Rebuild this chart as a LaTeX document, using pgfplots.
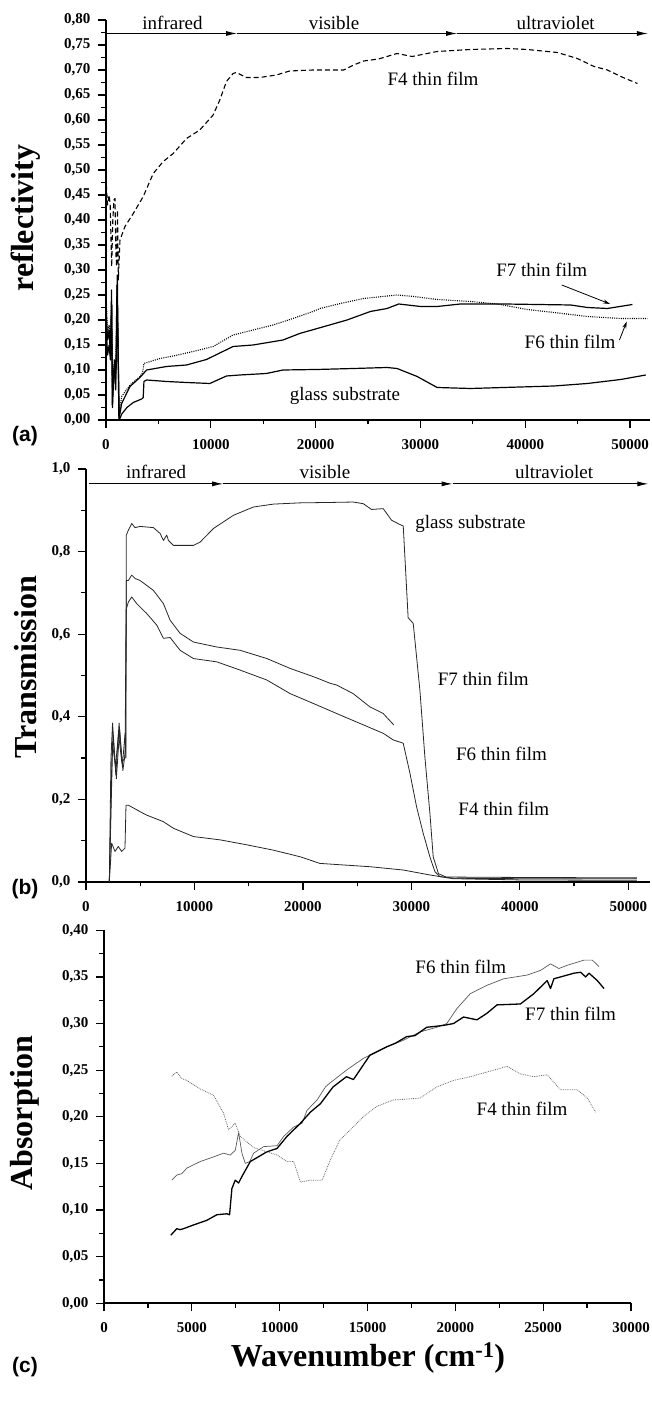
\documentclass[border=0pt]{standalone}
\usepackage{pgfplots}
\pgfplotsset{compat=1.18}
\usepackage{fontspec}
\setmainfont{Liberation Serif}
\newfontfamily\arialfont{Liberation Sans}
\usetikzlibrary{arrows.meta}
\newcommand\annot{\fontsize{19}{19}\selectfont}
\tikzset{reg/.style={-{Latex[length=11pt,width=5pt]}, line width=0.9pt}}
\pgfplotsset{
  panel/.style={
    scale only axis, axis lines=left, axis line style={-, line width=1.6pt},
    enlargelimits=false, clip=false,
    tick align=outside, major tick length=8pt, minor tick length=4.5pt,
    tick style={line width=1.2pt, black},
    tick label style={font=\fontsize{15}{15}\selectfont\bfseries},
    scaled ticks=false,
    /pgf/number format/assume math mode=true,
    xticklabel style={/pgf/number format/1000 sep={}, yshift=-8pt},
    yticklabel style={xshift=-4pt},
    minor x tick num=1, minor y tick num=1,
    ylabel style={font=\fontsize{32}{32}\selectfont\bfseries, anchor=center},
    xlabel style={font=\fontsize{32}{32}\selectfont\bfseries, anchor=center},
    every axis plot/.append style={line join=round},
  },
}
\begin{document}
\begin{tikzpicture}
\useasboundingbox (0,0) rectangle (652pt,1401pt);

%================ (a) =================
\begin{axis}[panel, at={(106pt,981pt)}, anchor=south west, width=544pt, height=400pt,
  xmin=0, xmax=51900, ymin=0, ymax=0.8,
  xtick={0,10000,20000,30000,40000,50000},
  ytick={0,0.05,0.1,0.15,0.2,0.25,0.3,0.35,0.4,0.45,0.5,0.55,0.6,0.65,0.7,0.75,0.8},
  yticklabel style={/pgf/number format/.cd,fixed,fixed zerofill,precision=2,use comma},
  ylabel={reflectivity},
  ylabel style={at={(axis description cs:-0.147,0.505)}},
]
% F4 thin film (dashed)
\addplot[black, line width=1.1pt, dash pattern=on 5pt off 3pt] table {
x y
30 0.47
150 0.43
222 0.44
300 0.45
400 0.43
540 0.307
650 0.40
760 0.44
857 0.443
950 0.33
1016 0.307
1100 0.42
1175 0.28
1333 0.36
1810 0.387
2603 0.413
3556 0.447
4508 0.493
5460 0.517
6413 0.533
7683 0.563
8952 0.58
10222 0.61
10857 0.64
11492 0.677
12127 0.693
12444 0.695
13397 0.685
14667 0.685
16254 0.69
17524 0.698
19746 0.70
21333 0.70
22675 0.70
23631 0.71
24586 0.718
26000 0.722
27771 0.733
29204 0.727
31592 0.737
34777 0.741
38280 0.743
40191 0.741
43057 0.735
44968 0.723
46560 0.707
47834 0.70
49108 0.687
50700 0.673
};
% F7 thin film (solid)
\addplot[black, line width=1.2pt] table {
x y
30 0.21
150 0.16
300 0.18
420 0.13
530 0.26
600 0.03
700 0.09
800 0.11
900 0.07
1000 0.12
1080 0.29
1230 0.0
1492 0.033
2286 0.067
3238 0.085
3873 0.100
5778 0.107
7683 0.110
9587 0.121
12127 0.147
14032 0.150
16889 0.160
18476 0.173
21333 0.19
22994 0.20
25223 0.217
26815 0.223
27930 0.232
30000 0.227
31592 0.227
33822 0.232
37962 0.232
44331 0.230
45924 0.225
47834 0.223
50223 0.231
};
% glass substrate (solid)
\addplot[black, line width=1.2pt] table {
x y
30 0.18
150 0.13
300 0.15
420 0.12
545 0.23
620 0.025
720 0.08
820 0.12
920 0.06
1050 0.27
1270 0.0
1500 0.012
2000 0.025
2600 0.035
3400 0.042
3550 0.045
3620 0.077
3873 0.080
5778 0.077
7683 0.075
9905 0.073
11492 0.088
12762 0.090
15302 0.093
16889 0.100
20063 0.101
23631 0.103
26815 0.105
27771 0.103
29682 0.087
31592 0.065
34777 0.063
37962 0.065
42739 0.068
45924 0.073
49108 0.081
51497 0.090
};
% F6 thin film (dotted)
\addplot[black, line width=1.1pt, dash pattern=on 1pt off 1.2pt] table {
x y
30 0.24
150 0.17
300 0.19
420 0.15
530 0.24
640 0.05
780 0.12
900 0.08
1060 0.27
1250 0.01
1492 0.047
2286 0.070
3238 0.087
3490 0.095
3619 0.113
5143 0.123
6413 0.128
8317 0.137
10222 0.147
12127 0.170
14032 0.180
15937 0.190
17841 0.203
19746 0.217
20420 0.223
22357 0.233
24586 0.243
27771 0.250
29363 0.247
31592 0.241
34777 0.237
37325 0.232
40191 0.221
42739 0.215
45924 0.207
49108 0.203
51656 0.203
};
\draw[reg] (axis cs:0,0.773) -- (axis cs:12500,0.773);
\draw[reg] (axis cs:12500,0.773) -- (axis cs:33500,0.773);
\draw[reg] (axis cs:33500,0.773) -- (axis cs:51700,0.773);
\node[font=\annot] at (axis cs:6345,0.794) {infrared};
\node[font=\annot] at (axis cs:21760,0.794) {visible};
\node[font=\annot] at (axis cs:42900,0.794) {ultraviolet};
\node[font=\annot] at (axis cs:31200,0.682) {F4 thin film};
\node[font=\annot] at (axis cs:41570,0.300) {F7 thin film};
\draw[-{Stealth[length=7pt,width=4pt]}, line width=0.8pt] (axis cs:43480,0.27) -- (axis cs:48090,0.232);
\node[font=\annot] at (axis cs:44275,0.157) {F6 thin film};
\draw[-{Stealth[length=7pt,width=4pt]}, line width=0.8pt] (axis cs:48985,0.16) -- (axis cs:49685,0.197);
\node[font=\annot] at (axis cs:22800,0.048) {glass substrate};
\end{axis}

%================ (b) =================
\begin{axis}[panel, at={(86pt,519pt)}, anchor=south west, width=564pt, height=413pt,
  xmin=0, xmax=52000, ymin=0, ymax=1.0,
  xtick={0,10000,20000,30000,40000,50000},
  ytick={0,0.2,0.4,0.6,0.8,1.0},
  yticklabel style={/pgf/number format/.cd,fixed,fixed zerofill,precision=1,use comma},
  ylabel={Transmission},
  ylabel style={at={(axis description cs:-0.108,0.52)}},
]
% glass substrate
\addplot[black!85, line width=0.8pt] table {
x y
2150 0
2300 0.30
2450 0.385
2750 0.26
3050 0.385
3350 0.28
3600 0.36
3680 0.30
3720 0.84
3908 0.852
4215 0.868
4523 0.858
4985 0.861
6215 0.858
6831 0.844
7138 0.827
7446 0.84
7600 0.827
8062 0.815
9908 0.815
10523 0.823
11754 0.856
13600 0.888
15446 0.908
17292 0.915
19754 0.918
22523 0.919
24639 0.920
25561 0.916
26329 0.902
27404 0.904
28172 0.876
28900 0.866
29250 0.862
29700 0.64
30170 0.626
30784 0.465
31244 0.303
31705 0.167
32012 0.061
32500 0.02
33200 0.012
40000 0.011
50800 0.010
};
% F7
\addplot[black!85, line width=0.8pt] table {
x y
2150 0
2480 0.36
2800 0.25
3100 0.37
3400 0.27
3650 0.32
3720 0.73
3908 0.73
4215 0.743
4523 0.735
4985 0.73
6215 0.706
7138 0.674
7754 0.634
8677 0.602
9908 0.581
12062 0.569
14215 0.561
16677 0.541
18831 0.517
20985 0.497
22523 0.481
23103 0.477
24639 0.456
26175 0.424
27404 0.408
28387 0.380
};
% F6
\addplot[black!85, line width=0.8pt] table {
x y
2150 0
2420 0.34
2720 0.28
3000 0.36
3300 0.29
3600 0.30
3700 0.66
3908 0.678
4215 0.69
4677 0.674
5600 0.65
6523 0.622
7138 0.59
7754 0.592
8677 0.561
9908 0.541
12062 0.533
14215 0.513
16677 0.489
18831 0.456
20985 0.432
23103 0.408
25253 0.384
27404 0.36
28326 0.344
29248 0.336
29862 0.264
30478 0.182
31088 0.118
31705 0.061
32170 0.025
32627 0.013
34000 0.009
40000 0.008
50800 0.008
};
% F4
\addplot[black!85, line width=0.8pt] table {
x y
2150 0
2366 0.094
2673 0.074
2980 0.086
3287 0.074
3595 0.082
3687 0.186
3902 0.186
5292 0.166
5591 0.162
7138 0.146
8062 0.13
9908 0.11
12369 0.102
14831 0.09
17292 0.077
19754 0.061
21567 0.045
26175 0.037
29248 0.029
31705 0.017
33830 0.008
40000 0.005
50800 0.004
};
\draw[reg] (axis cs:300,0.964) -- (axis cs:12650,0.964);
\draw[reg] (axis cs:12650,0.964) -- (axis cs:33800,0.964);
\draw[reg] (axis cs:33800,0.964) -- (axis cs:51850,0.964);
\node[font=\annot] at (axis cs:6470,0.993) {infrared};
\node[font=\annot] at (axis cs:22030,0.993) {visible};
\node[font=\annot] at (axis cs:43160,0.993) {ultraviolet};
\node[font=\annot] at (axis cs:35450,0.868) {glass substrate};
\node[font=\annot] at (axis cs:36620,0.491) {F7 thin film};
\node[font=\annot] at (axis cs:38310,0.310) {F6 thin film};
\node[font=\annot] at (axis cs:38525,0.177) {F4 thin film};
\end{axis}

%================ (c) =================
\begin{axis}[panel, at={(104pt,97.7pt)}, anchor=south west, width=527pt, height=373pt,
  xmin=0, xmax=30000, ymin=0, ymax=0.4,
  xtick={0,5000,10000,15000,20000,25000,30000},
  ytick={0,0.05,0.1,0.15,0.2,0.25,0.3,0.35,0.4},
  yticklabel style={/pgf/number format/.cd,fixed,fixed zerofill,precision=2,use comma},
  ylabel={Absorption},
  ylabel style={at={(axis description cs:-0.15,0.51)}},
  xlabel={Wavenumber (cm\textsuperscript{-1})},
  xlabel style={at={(axis description cs:0.501,-0.147)}},
]
% F6 thin film (thin)
\addplot[black!65, line width=0.7pt] table {
x y
3859 0.132
4144 0.1375
4430 0.139
4715 0.145
5475 0.152
6236 0.157
6806 0.161
7186 0.159
7471 0.164
7662 0.183
7852 0.161
8042 0.150
8300 0.152
8517 0.161
9087 0.168
9848 0.169
10228 0.179
10798 0.189
11274 0.193
11559 0.207
12129 0.218
12605 0.232
12848 0.236
13800 0.250
14752 0.2625
16086 0.275
17038 0.282
17990 0.291
18943 0.296
19514 0.300
20086 0.316
20848 0.332
21800 0.341
22752 0.348
24086 0.352
24848 0.357
25419 0.364
25895 0.359
26371 0.3625
27324 0.368
27800 0.368
28181 0.361
};
% F7 thin film (thick)
\addplot[black, line width=1.3pt] table {
x y
3802 0.073
4144 0.080
4330 0.079
4525 0.080
5095 0.084
5856 0.089
6426 0.095
6996 0.096
7148 0.095
7281 0.123
7471 0.132
7662 0.129
7852 0.136
8327 0.152
9278 0.1625
9848 0.166
10418 0.179
11179 0.193
11749 0.205
12319 0.214
13038 0.232
13800 0.243
14200 0.240
14562 0.250
15133 0.266
16086 0.275
16600 0.279
17229 0.286
17700 0.287
18371 0.296
19324 0.298
19895 0.300
20467 0.307
21229 0.304
21800 0.311
22371 0.320
23705 0.321
24467 0.332
25229 0.346
25419 0.3375
25610 0.348
26752 0.354
27133 0.355
27419 0.350
27610 0.354
28086 0.346
28467 0.3375
};
% F4 thin film (dotted)
\addplot[black!60, line width=0.8pt, densely dotted] table {
x y
3859 0.2436
4144 0.248
4430 0.241
4715 0.239
5475 0.230
6236 0.223
6806 0.204
7091 0.186
7471 0.193
7757 0.179
8517 0.167
9848 0.159
10418 0.152
10798 0.152
11179 0.130
11749 0.132
12414 0.132
12890 0.154
13419 0.175
14181 0.189
14752 0.200
15514 0.211
16467 0.218
17990 0.220
18943 0.232
19895 0.239
20848 0.243
21800 0.248
22943 0.254
23705 0.246
24467 0.243
25229 0.245
25990 0.229
26943 0.229
27514 0.220
27990 0.205
};
\node[font=\annot] at (axis cs:20314,0.361) {F6 thin film};
\node[font=\annot] at (axis cs:26562,0.310) {F7 thin film};
\node[font=\annot] at (axis cs:23800,0.209) {F4 thin film};
\end{axis}

\node[font=\arialfont\bfseries\fontsize{21}{21}\selectfont] at (25pt,965pt) {(a)};
\node[font=\arialfont\bfseries\fontsize{21}{21}\selectfont] at (25pt,512pt) {(b)};
\node[font=\arialfont\bfseries\fontsize{21}{21}\selectfont] at (25pt,34pt) {(c)};
\end{tikzpicture}
\end{document}
